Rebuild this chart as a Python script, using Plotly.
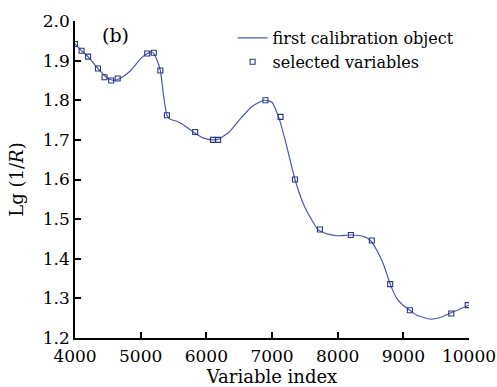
import plotly.graph_objects as go

curve_x = [4000, 4100, 4200, 4350, 4500, 4600, 4700, 4850, 5000, 5100, 5180, 5240, 5300, 5350, 5400,
           5450, 5550, 5650, 5800, 5950, 6100, 6200, 6350, 6500, 6700, 6880, 7000, 7100,
           7200, 7350, 7500, 7700, 7850, 8000, 8200, 8400, 8500, 8600, 8700, 8800, 8900,
           9000, 9100, 9200, 9400, 9550, 9700, 9850, 10000]
curve_y = [1.942, 1.925, 1.91, 1.88, 1.855, 1.85, 1.856, 1.875, 1.905, 1.918, 1.921, 1.905, 1.875, 1.81, 1.762,
           1.752, 1.747, 1.738, 1.72, 1.705, 1.70, 1.703, 1.72, 1.75, 1.785, 1.80, 1.795, 1.758,
           1.70, 1.60, 1.53, 1.474, 1.462, 1.458, 1.46, 1.456, 1.446, 1.42, 1.385, 1.336, 1.30,
           1.282, 1.27, 1.258, 1.248, 1.251, 1.262, 1.272, 1.283]

sel_x = [4000, 4100, 4200, 4350, 4450, 4550, 4650, 5100, 5200, 5300, 5400, 5830, 6100, 6180,
         6900, 7130, 7350, 7730, 8200, 8520, 8800, 9100, 9730, 9980]
sel_y = [1.942, 1.925, 1.91, 1.88, 1.858, 1.85, 1.855, 1.918, 1.92, 1.875, 1.762, 1.72, 1.70, 1.70,
         1.80, 1.758, 1.60, 1.474, 1.46, 1.446, 1.336, 1.27, 1.262, 1.283]

y_ticks = [1.2, 1.3, 1.4, 1.5, 1.6, 1.7, 1.8, 1.9, 2.0]
x_ticks = [4000, 5000, 6000, 7000, 8000, 9000, 10000]

font_family = "DejaVu Serif"

fig = go.Figure()
fig.add_trace(go.Scatter(x=curve_x, y=curve_y, mode="lines",
                         line=dict(color="#4a58a8", width=1.2, shape="spline", smoothing=0.5),
                         name="first calibration object"))
fig.add_trace(go.Scatter(x=sel_x, y=sel_y, mode="markers",
                         marker=dict(symbol="square-open", size=5, color="#2a3580", line=dict(width=1.1)),
                         name="selected variables"))

fig.add_annotation(x=4610, y=1.965, text="(b)", showarrow=False, xref="x", yref="y",
                   font=dict(family=font_family, size=19, color="black"))

fig.update_layout(
    width=497, height=387,
    margin=dict(l=75, r=28, t=21, b=49),
    paper_bgcolor="white", plot_bgcolor="white",
    font=dict(family=font_family, size=17, color="black"),
    showlegend=True,
    legend=dict(x=0.40, y=1.0, xanchor="left", yanchor="top", bgcolor="rgba(0,0,0,0)",
                font=dict(family=font_family, size=16, color="black"), itemwidth=30,
                tracegroupgap=0),
    xaxis=dict(range=[4000, 10000], tickvals=x_ticks, ticktext=[str(v) for v in x_ticks],
               showline=True, linecolor="black", linewidth=1.5, ticks="inside", ticklen=6,
               tickwidth=1.5, tickcolor="black", showgrid=False, zeroline=False,
               ticklabelstandoff=2, automargin=False,
               title=dict(text="Variable index", font=dict(size=18))),
    yaxis=dict(range=[1.2, 2.0], tickvals=y_ticks, ticktext=[f"{v:.1f}" for v in y_ticks],
               showline=True, linecolor="black", linewidth=1.5, ticks="inside", ticklen=6,
               tickwidth=1.5, tickcolor="black", showgrid=False, zeroline=False,
               automargin=False,
               title=dict(text="Lg (1/<i>R</i>)", font=dict(size=18))),
)

fig.write_html("out.html")
